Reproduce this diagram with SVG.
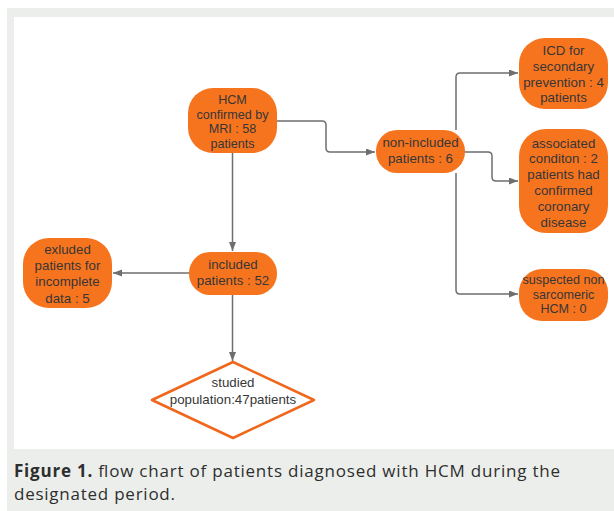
<svg xmlns="http://www.w3.org/2000/svg" width="614" height="511" viewBox="0 0 614 511">
<defs>
<marker id="arr" markerUnits="userSpaceOnUse" markerWidth="10" markerHeight="8" refX="9" refY="3.5" orient="auto">
<path d="M0,0 L9,3.5 L0,7 z" fill="#6e6e6e"/>
</marker>
<style>
.node{fill:#f7741f;}
.t{font-family:"Liberation Sans",Arial,sans-serif;font-size:13.3px;fill:#363636;text-anchor:middle;}
.s{font-size:12.6px;}
.c{fill:none;stroke:#6e6e6e;stroke-width:1.5;marker-end:url(#arr);}
.cap{font-family:"Open Sans","Noto Sans",sans-serif;font-size:17px;fill:#2e2e2e;}
</style>
</defs>
<rect x="0" y="0" width="614" height="511" fill="#ffffff"/>
<rect x="7" y="8" width="607" height="503" fill="#eceeeb"/>
<rect x="14" y="17" width="600" height="432" fill="#ffffff"/>

<g id="connectors">
<path class="c" d="M232.5,153 V251"/>
<path class="c" d="M189,273 H113"/>
<path class="c" d="M232.5,295 V361"/>
<path class="c" d="M277,121 H322 Q326,121 326,125 V148 Q326,152 330,152 H375"/>
<path class="c" d="M456,130 V77 Q456,73 460,73 H518"/>
<path class="c" d="M465,152 H488 Q492,152 492,156 V177 Q492,181 496,181 H518"/>
<path class="c" d="M456,173 V290 Q456,294 460,294 H518"/>
</g>

<g id="hcm">
<rect class="node" x="188" y="88" width="89" height="65" rx="25" ry="25"/>
<text class="t s" x="232.5" y="104">HCM</text>
<text class="t s" x="232.5" y="118.5">confirmed by</text>
<text class="t s" x="232.5" y="133">MRI : 58</text>
<text class="t s" x="232.5" y="147.5">patients</text>
</g>

<g id="noninc">
<rect class="node" x="376" y="130" width="89" height="43" rx="21" ry="21"/>
<text class="t" x="420.5" y="147">non-included</text>
<text class="t" x="420.5" y="163">patients : 6</text>
</g>

<g id="icd">
<rect class="node" x="519" y="38" width="89" height="71" rx="26" ry="26"/>
<text class="t" x="563.5" y="55">ICD for</text>
<text class="t" x="563.5" y="71">secondary</text>
<text class="t" x="563.5" y="86.5">prevention : 4</text>
<text class="t" x="563.5" y="102">patients</text>
</g>

<g id="assoc">
<rect class="node" x="519" y="129" width="89" height="104" rx="27" ry="27"/>
<text class="t" x="563.5" y="147.5">associated</text>
<text class="t" x="563.5" y="163">conditon : 2</text>
<text class="t" x="563.5" y="179">patients had</text>
<text class="t" x="563.5" y="195">confirmed</text>
<text class="t" x="563.5" y="211">coronary</text>
<text class="t" x="563.5" y="227">disease</text>
</g>

<g id="suspected">
<rect class="node" x="519" y="269" width="89" height="52" rx="23" ry="23"/>
<text class="t s" x="563.5" y="284">suspected non</text>
<text class="t s" x="563.5" y="298.5">sarcomeric</text>
<text class="t s" x="563.5" y="313">HCM : 0</text>
</g>

<g id="included">
<rect class="node" x="189" y="252" width="88" height="43" rx="21" ry="21"/>
<text class="t" x="233" y="268.5">included</text>
<text class="t" x="233" y="285">patients : 52</text>
</g>

<g id="excluded">
<rect class="node" x="23" y="238" width="89" height="70" rx="26" ry="26"/>
<text class="t" x="67.5" y="254">exluded</text>
<text class="t" x="67.5" y="270">patients for</text>
<text class="t" x="67.5" y="286">incomplete</text>
<text class="t" x="67.5" y="302.5">data : 5</text>
</g>

<g id="studied">
<path d="M233,362 L314,400 L233,438 L152,400 Z" fill="#ffffff" stroke="#f0671c" stroke-width="2.5" stroke-linejoin="round"/>
<text class="t" x="233" y="386.5">studied</text>
<text class="t" x="233" y="403.5">population:47patients</text>
</g>

<g id="caption">
<text class="cap" x="14" y="477" textLength="546" lengthAdjust="spacing"><tspan font-weight="bold">Figure 1.</tspan> flow chart of patients diagnosed with HCM during the</text>
<text class="cap" x="14" y="500" textLength="161" lengthAdjust="spacing">designated period.</text>
</g>
</svg>
